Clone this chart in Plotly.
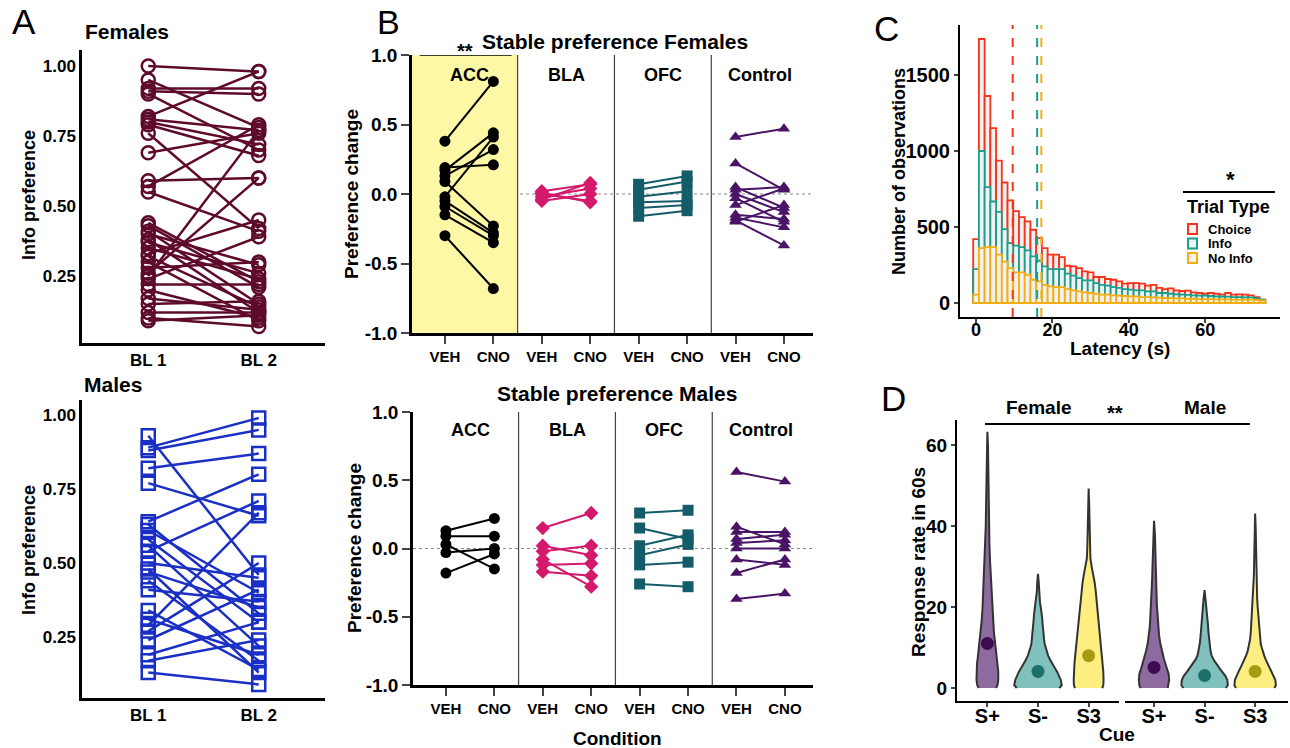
import plotly.graph_objects as go
import numpy as np

W, H = 1290, 748
FONT = "Liberation Sans, Arial, sans-serif"

# ---------------- Panel A data ----------------
bl_labels = ["BL 1", "BL 2"]
fem_bl1 = [1.00, 0.95, 0.92, 0.91, 0.90, 0.82, 0.81, 0.80, 0.79, 0.76, 0.69, 0.59, 0.57, 0.55,
           0.44, 0.43, 0.41, 0.40, 0.38, 0.37, 0.35, 0.33, 0.32, 0.30, 0.28, 0.26, 0.25, 0.24,
           0.22, 0.20, 0.17, 0.15, 0.12, 0.10, 0.09]
fem_bl2 = [0.98, 0.78, 0.92, 0.90, 0.70, 0.98, 0.77, 0.72, 0.68, 0.42, 0.76, 0.60, 0.79, 0.41,
           0.23, 0.21, 0.15, 0.29, 0.12, 0.26, 0.24, 0.45, 0.14, 0.09, 0.30, 0.60, 0.77, 0.39,
           0.22, 0.10, 0.13, 0.16, 0.12, 0.07, 0.11]
male_bl1 = [0.93, 0.89, 0.88, 0.82, 0.77, 0.64, 0.63, 0.61, 0.58, 0.56, 0.54, 0.50, 0.48,
            0.47, 0.44, 0.41, 0.34, 0.31, 0.29, 0.27, 0.24, 0.19, 0.17, 0.13]
male_bl2 = [0.46, 0.99, 0.95, 0.87, 0.66, 0.80, 0.33, 0.40, 0.30, 0.22, 0.71, 0.45, 0.13,
            0.35, 0.17, 0.37, 0.14, 0.19, 0.67, 0.50, 0.41, 0.30, 0.24, 0.09]

# ---------------- Panel B data ----------------
regions = ["ACC", "BLA", "OFC", "Control"]
conditions = ["VEH", "CNO"]
f_acc_veh = [0.38, 0.19, 0.17, 0.13, 0.09, -0.02, -0.05, -0.09, -0.15, -0.30]
f_acc_cno = [0.81, 0.21, 0.44, 0.32, -0.23, 0.41, -0.28, -0.30, -0.35, -0.68]
f_bla_veh = [0.02, 0.00, -0.02, -0.04, -0.05, 0.01]
f_bla_cno = [0.07, -0.05, 0.04, 0.08, 0.00, -0.06]
f_ofc_veh = [0.07, 0.03, -0.02, -0.06, -0.10, -0.16]
f_ofc_cno = [0.13, 0.09, 0.02, -0.05, -0.08, -0.12]
f_ctl_veh = [0.41, 0.22, 0.05, 0.03, 0.00, -0.03, -0.08, -0.15, -0.17, -0.19, -0.20]
f_ctl_cno = [0.47, 0.03, -0.10, 0.05, -0.13, -0.20, 0.04, -0.18, -0.24, -0.37, -0.08]
m_acc_veh = [0.13, 0.09, 0.03, -0.03, -0.18]
m_acc_cno = [0.22, 0.09, -0.15, 0.00, -0.04]
m_bla_veh = [0.15, 0.02, -0.02, -0.08, -0.12, -0.17]
m_bla_cno = [0.26, -0.05, 0.02, -0.28, -0.11, -0.20]
m_ofc_veh = [0.26, 0.15, 0.02, -0.05, -0.12, -0.26]
m_ofc_cno = [0.28, 0.07, 0.10, 0.03, -0.10, -0.28]
m_ctl_veh = [0.56, 0.16, 0.12, 0.07, 0.04, 0.00, -0.08, -0.18, -0.37]
m_ctl_cno = [0.49, 0.03, 0.12, 0.10, 0.06, 0.00, -0.12, -0.08, -0.33]
pref_ticks = [-1.0, -0.5, 0.0, 0.5, 1.0]
pref_ticktext = ["-1.0", "-0.5", "0.0", "0.5", "1.0"]

# ---------------- Panel C data ----------------
bin_width = 1.5
bin_centers = list(np.arange(0, 75.01, bin_width))
choice_counts = [420, 1737, 1362, 1150, 937, 793, 675, 604, 565, 537, 482, 427, 361, 318, 318, 302,
                 245, 241, 230, 208, 201, 171, 171, 158, 153, 142, 127, 131, 131, 127, 114, 120, 99,
                 92, 96, 83, 79, 81, 70, 66, 61, 66, 61, 55, 66, 55, 57, 55, 50, 39, 22]
info_counts = [223, 1000, 762, 668, 600, 486, 394, 377, 368, 346, 307, 278, 241, 223, 223, 223,
               193, 180, 164, 149, 149, 131, 120, 114, 105, 99, 92, 88, 83, 83, 77, 77, 66,
               66, 61, 57, 55, 53, 50, 48, 48, 46, 44, 42, 42, 39, 39, 37, 37, 31, 22]
noinfo_counts = [55, 361, 368, 368, 318, 272, 230, 201, 201, 186, 153, 142, 120, 110, 105, 105,
                 92, 83, 77, 70, 66, 61, 55, 55, 50, 48, 46, 44, 44, 39, 39, 37, 35,
                 33, 33, 31, 31, 28, 28, 26, 26, 26, 24, 24, 24, 22, 22, 22, 22, 20, 18]
trial_types = ["Choice", "Info", "No Info"]
mean_latency = [9.6, 16.0, 17.1]

# ---------------- Panel D data (violin profiles) ----------------
cues = ["S+", "S-", "S3"]
sexes = ["Female", "Male"]
f_sp_y = [0, 0.7, 2, 4, 6, 8, 10, 12, 14, 17, 20, 24, 28, 32, 36, 40, 45, 50, 55, 60, 63.3]
f_sp_w = [0.17, 0.2, 0.215, 0.215, 0.205, 0.185, 0.165, 0.145, 0.128, 0.11, 0.095, 0.08, 0.065,
          0.05, 0.04, 0.032, 0.026, 0.02, 0.016, 0.012, 0.0]
f_sm_y = [0, 0.7, 2, 3, 4, 5, 6, 7, 8, 9, 10, 11, 12, 13, 14, 15, 16, 17, 18, 19, 20, 21, 22, 24, 26, 28.2]
f_sm_w = [0.42, 0.47, 0.45, 0.42, 0.38, 0.33, 0.28, 0.24, 0.2, 0.17, 0.15, 0.13, 0.12, 0.11, 0.1,
          0.095, 0.09, 0.085, 0.08, 0.07, 0.055, 0.04, 0.032, 0.022, 0.015, 0.0]
f_s3_y = [0, 0.7, 2, 4, 6, 8, 10, 12, 14, 16, 18, 20, 22, 24, 26, 28, 30, 32, 35, 38, 42, 46, 49.3]
f_s3_w = [0.27, 0.29, 0.295, 0.29, 0.28, 0.265, 0.25, 0.235, 0.22, 0.2, 0.185, 0.17, 0.155, 0.14,
          0.12, 0.095, 0.06, 0.035, 0.025, 0.02, 0.015, 0.01, 0.0]
m_sp_y = [0, 0.7, 2, 3.5, 5, 7, 9, 11, 13, 15, 17, 19, 21, 24, 27, 30, 34, 38, 41.3]
m_sp_w = [0.27, 0.29, 0.3, 0.29, 0.25, 0.2, 0.16, 0.125, 0.1, 0.085, 0.075, 0.065, 0.055, 0.045,
          0.037, 0.03, 0.024, 0.018, 0.0]
m_sm_y = [0, 0.7, 2, 3, 4, 5, 6, 7, 8, 9, 10, 11, 12, 14, 16, 18, 20, 22, 24.2]
m_sm_w = [0.42, 0.46, 0.45, 0.41, 0.35, 0.29, 0.23, 0.18, 0.14, 0.12, 0.11, 0.095, 0.085, 0.075,
          0.065, 0.05, 0.035, 0.02, 0.0]
m_s3_y = [0, 0.7, 2, 3, 4, 5, 6, 7, 8, 9, 10, 11, 12, 14, 16, 18, 20, 22, 25, 28, 32, 36, 40, 43.1]
m_s3_w = [0.38, 0.41, 0.4, 0.37, 0.33, 0.29, 0.25, 0.21, 0.18, 0.15, 0.13, 0.11, 0.1, 0.085, 0.075,
          0.065, 0.05, 0.04, 0.03, 0.024, 0.018, 0.014, 0.01, 0.0]
f_means = [11.0, 4.1, 8.0]
m_means = [5.1, 3.1, 4.1]

# ---------------- styling ----------------
FEM_COL = "#5e0b2b"
MALE_COL = "#1a2fc4"
REG_COLS = ["#000000", "#d4186c", "#145c6a", "#4a1466"]
REG_SYMS = ["circle", "diamond", "square", "triangle-up"]
TT_COLS = ["#f8331c", "#1b9e8c", "#f2ae12"]
VIO_FILL = ["#8d6a9f", "#80c1bd", "#fdee82"]
VIO_DOT = ["#3f0a4f", "#1c6f6a", "#a89b14"]


def dx(a, b):
    return [a / W, b / W]


def dy(top, bottom):
    return [1 - bottom / H, 1 - top / H]


def ann(x, y, text, size, bold=True, angle=0, xanchor="center", yanchor="middle", color="black"):
    return dict(x=x / W, y=1 - y / H, xref="paper", yref="paper", text=text, showarrow=False,
                font=dict(family=FONT, size=size, color=color, weight="bold" if bold else "normal"),
                textangle=angle, xanchor=xanchor, yanchor=yanchor)


def pline(x0, y0, x1, y1, width=2, color="black", dash="solid"):
    return dict(type="line", xref="paper", yref="paper", x0=x0 / W, x1=x1 / W, y0=1 - y0 / H,
                y1=1 - y1 / H, line=dict(color=color, width=width, dash=dash))


def pairs(a, b, x1, x2):
    xs, ys = [], []
    for u, v in zip(a, b):
        xs += [x1, x2, None]
        ys += [u, v, None]
    return xs, ys


fig = go.Figure()
annotations = []
shapes = []

# ---------------- Panel A ----------------
for (a, b, col, sym, xa, ya) in [(fem_bl1, fem_bl2, FEM_COL, "circle-open", "x", "y"),
                                  (male_bl1, male_bl2, MALE_COL, "square-open", "x2", "y2")]:
    xs, ys = pairs(a, b, 1, 2)
    fig.add_trace(go.Scatter(x=xs, y=ys, mode="lines+markers", xaxis=xa, yaxis=ya,
                             line=dict(color=col, width=2.5),
                             marker=dict(symbol=sym, size=13, color=col, line=dict(width=2.5, color=col)),
                             showlegend=False, hoverinfo="skip"))

# ---------------- Panel B ----------------
fem_groups = [(f_acc_veh, f_acc_cno), (f_bla_veh, f_bla_cno), (f_ofc_veh, f_ofc_cno), (f_ctl_veh, f_ctl_cno)]
male_groups = [(m_acc_veh, m_acc_cno), (m_bla_veh, m_bla_cno), (m_ofc_veh, m_ofc_cno), (m_ctl_veh, m_ctl_cno)]
for groups, xa, ya in [(fem_groups, "x3", "y3"), (male_groups, "x4", "y4")]:
    for g, (veh, cno) in enumerate(groups):
        xs, ys = pairs(veh, cno, 2 * g + 1, 2 * g + 2)
        fig.add_trace(go.Scatter(x=xs, y=ys, mode="lines+markers", xaxis=xa, yaxis=ya,
                                 line=dict(color=REG_COLS[g], width=2),
                                 marker=dict(symbol=REG_SYMS[g], size=11, color=REG_COLS[g]),
                                 showlegend=False, hoverinfo="skip"))

# ---------------- Panel C ----------------
for counts, col in zip([choice_counts, info_counts, noinfo_counts], TT_COLS):
    fig.add_trace(go.Bar(x=bin_centers, y=counts, width=bin_width, xaxis="x5", yaxis="y5",
                         marker=dict(color="#f1f1f1", line=dict(color=col, width=1.8)),
                         opacity=1, showlegend=False, hoverinfo="skip"))

# ---------------- Panel D ----------------
profiles = [[(f_sp_y, f_sp_w), (f_sm_y, f_sm_w), (f_s3_y, f_s3_w)],
            [(m_sp_y, m_sp_w), (m_sm_y, m_sm_w), (m_s3_y, m_s3_w)]]
means = [f_means, m_means]
for s, (xa, ya) in enumerate([("x6", "y6"), ("x7", "y7")]):
    for c in range(3):
        yv, wv = profiles[s][c]
        pos = c + 1
        xs = [pos - w for w in wv] + [pos + w for w in wv[::-1]]
        ys = list(yv) + list(yv[::-1])
        fig.add_trace(go.Scatter(x=xs, y=ys, mode="lines", fill="toself", fillcolor=VIO_FILL[c],
                                 line=dict(color="#333333", width=2), xaxis=xa, yaxis=ya,
                                 showlegend=False, hoverinfo="skip"))
    fig.add_trace(go.Scatter(x=[1, 2, 3], y=means[s], mode="markers", xaxis=xa, yaxis=ya,
                             marker=dict(size=13, color=VIO_DOT), showlegend=False, hoverinfo="skip"))

# ---------------- axes ----------------
def ax_style(**kw):
    base = dict(showgrid=False, zeroline=False, showline=True, linecolor="black", linewidth=2.5,
                tickfont=dict(family=FONT, size=17, color="black", weight="bold"), ticks="",
                fixedrange=True, automargin=False)
    base.update(kw)
    return base


def tf(size):
    return dict(family=FONT, size=size, color="black", weight="bold")


layout = dict(
    width=W, height=H, autosize=False,
    margin=dict(l=0, r=0, t=0, b=0, pad=0, autoexpand=False), plot_bgcolor="rgba(0,0,0,0)",
    paper_bgcolor="white", barmode="overlay", showlegend=False,
    font=dict(family=FONT, color="black"),
    # Panel A
    xaxis=ax_style(domain=dx(82, 325), range=[0.4, 2.6], tickvals=[1, 2], ticktext=bl_labels, anchor="y"),
    yaxis=ax_style(domain=dy(50, 343), range=[0.011, 1.057], tickvals=[0.25, 0.5, 0.75, 1.0],
                   tickformat=".2f", anchor="x"),
    xaxis2=ax_style(domain=dx(82, 325), range=[0.4, 2.6], tickvals=[1, 2], ticktext=bl_labels, anchor="y2"),
    yaxis2=ax_style(domain=dy(400, 698), range=[0.044, 1.051], tickvals=[0.25, 0.5, 0.75, 1.0],
                    tickformat=".2f", anchor="x2"),
    # Panel B
    xaxis3=ax_style(domain=dx(412, 813), range=[0.32, 8.6], tickvals=list(range(1, 9)),
                    ticktext=conditions * 4, ticks="outside", ticklen=8, tickwidth=2,
                    tickfont=tf(15), anchor="y3"),
    yaxis3=ax_style(domain=dy(55, 333), range=[-1, 1], tickvals=pref_ticks, ticktext=pref_ticktext,
                    ticks="outside", ticklen=8, tickwidth=2, tickfont=tf(19), anchor="x3"),
    xaxis4=ax_style(domain=dx(413, 813), range=[0.32, 8.58], tickvals=list(range(1, 9)),
                    ticktext=conditions * 4, ticks="outside", ticklen=8, tickwidth=2,
                    tickfont=tf(15), anchor="y4"),
    yaxis4=ax_style(domain=dy(412, 685), range=[-1, 1], tickvals=pref_ticks, ticktext=pref_ticktext,
                    ticks="outside", ticklen=8, tickwidth=2, tickfont=tf(19), anchor="x4"),
    # Panel C
    xaxis5=ax_style(domain=dx(960, 1280), range=[-4.2, 79.6], tickvals=[0, 20, 40, 60],
                    ticks="outside", ticklen=4, tickwidth=1.5, linewidth=2, tickfont=tf(18),
                    ticklabelstandoff=-9, anchor="y5"),
    yaxis5=ax_style(domain=dy(25, 317), range=[-92, 1829], tickvals=[0, 500, 1000, 1500],
                    ticks="outside", ticklen=4, tickwidth=1.5, linewidth=2, tickfont=tf(20), anchor="x5"),
    # Panel D
    xaxis6=ax_style(domain=dx(957, 1119), range=[0.4, 3.6], tickvals=[1, 2, 3], ticktext=cues,
                    ticks="outside", ticklen=4, tickwidth=1.5, linewidth=2, tickfont=tf(20),
                    ticklabelstandoff=-8, anchor="y6"),
    yaxis6=ax_style(domain=dy(420, 701), range=[-3.2, 66.2], tickvals=[0, 20, 40, 60],
                    ticks="outside", ticklen=4, tickwidth=1.5, linewidth=2, tickfont=tf(19), anchor="x6"),
    xaxis7=ax_style(domain=dx(1125, 1288), range=[0.426, 3.65], tickvals=[1, 2, 3], ticktext=cues,
                    ticks="outside", ticklen=4, tickwidth=1.5, linewidth=2, tickfont=tf(20),
                    ticklabelstandoff=-8, anchor="y7"),
    yaxis7=ax_style(domain=dy(420, 701), range=[-3.2, 66.2], showline=False, showticklabels=False,
                    anchor="x7"),
)

# Panel B decorations
for xa, ya in [("x3", "y3"), ("x4", "y4")]:
    for g in range(1, len(regions)):
        shapes.append(dict(type="line", xref=xa, yref=ya + " domain", x0=2 * g + 0.5, x1=2 * g + 0.5,
                           y0=0, y1=1, line=dict(color="#444444", width=1.2)))
    shapes.append(dict(type="line", xref=xa + " domain", yref=ya, x0=0, x1=1, y0=0, y1=0,
                       line=dict(color="#888888", width=1.2, dash="dot"), layer="below"))
shapes.append(dict(type="rect", xref="x3", yref="y3 domain", x0=0.32, x1=2.5, y0=0, y1=1,
                   fillcolor="#fcf8a6", line=dict(width=0), layer="below"))
shapes.append(dict(type="line", xref="x3", yref="y3", x0=0.48, x1=2.38, y0=1.0, y1=1.0,
                   line=dict(color="black", width=1.5)))
annotations.append(dict(x=1.42, y=1.0, xref="x3", yref="y3", text="**", showarrow=False, yshift=4,
                        font=dict(family=FONT, size=20, weight="bold", color="black")))
for xa, ya, yy in [("x3", "y3", 0.856), ("x4", "y4", 0.868)]:
    for g, r in enumerate(regions):
        annotations.append(dict(x=2 * g + 1.5, y=yy, xref=xa, yref=ya, text=r, showarrow=False,
                                font=dict(family=FONT, size=18, weight="bold", color="black")))

# Panel C decorations
for m, col in zip(mean_latency, TT_COLS):
    shapes.append(dict(type="line", xref="x5", yref="y5 domain", x0=m, x1=m, y0=0, y1=1,
                       line=dict(color=col, width=2, dash="dash")))
shapes.append(pline(1183, 192, 1275, 192, width=2))
annotations.append(ann(1230, 180, "*", 22))
annotations.append(ann(1185, 207, "Trial Type", 18, xanchor="left"))
for i, (name, col) in enumerate(zip(trial_types, TT_COLS)):
    yc = 229 + i * 14.5
    shapes.append(dict(type="rect", xref="paper", yref="paper", x0=1188 / W, x1=1197 / W,
                       y0=1 - (yc + 5) / H, y1=1 - (yc - 5) / H, fillcolor="#f1f1f1",
                       line=dict(color=col, width=2)))
    annotations.append(ann(1206, yc, name, 13, xanchor="left"))

# Panel D decorations
shapes.append(pline(985, 424, 1250, 424, width=2))
annotations.append(ann(1038, 408, "Female", 19))
annotations.append(ann(1205, 408, "Male", 19))
annotations.append(ann(1115, 413, "**", 20))

# Titles & labels
annotations += [
    ann(24, 21, "A", 35, bold=False),
    ann(388, 22, "B", 34, bold=False),
    ann(886, 28, "C", 35, bold=False),
    ann(893, 398, "D", 35, bold=False),
    ann(83, 31, "Females", 21, xanchor="left"),
    ann(82, 385, "Males", 21, xanchor="left"),
    ann(29, 195, "Info preference", 18, angle=-90),
    ann(29, 550, "Info preference", 18, angle=-90),
    ann(615, 41, "Stable preference Females", 21),
    ann(617, 393, "Stable preference Males", 21),
    ann(352, 194, "Preference change", 19, angle=-90),
    ann(354, 548, "Preference change", 19, angle=-90),
    ann(617, 738, "Condition", 19),
    ann(899, 172, "Number of observations", 18, angle=-90),
    ann(1120, 348, "Latency (s)", 19),
    ann(918, 562, "Response rate in 60s", 19, angle=-90),
    ann(1117, 734, "Cue", 19),
]

layout["annotations"] = annotations
layout["shapes"] = shapes
fig.update_layout(**layout)
fig.write_html("out.html", config={"displayModeBar": False})

# remove default page margins so the figure sits exactly in the 1290x748 window
with open("out.html", "r", encoding="utf-8") as fh:
    html = fh.read()
html = html.replace("<head>", "<head><style>html,body{margin:0;padding:0;overflow:hidden;}</style>", 1)
with open("out.html", "w", encoding="utf-8") as fh:
    fh.write(html)
